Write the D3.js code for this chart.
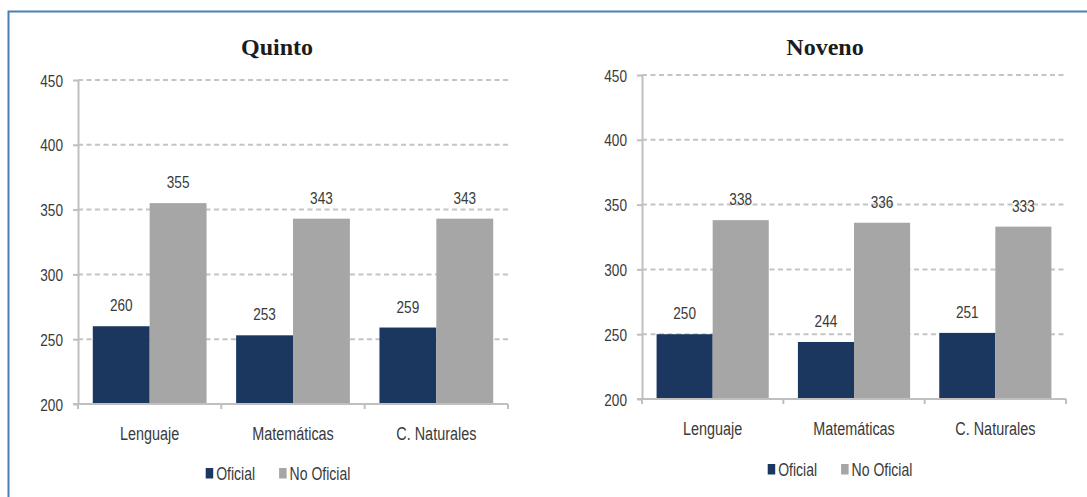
<!DOCTYPE html>
<html>
<head>
<meta charset="utf-8">
<script src="https://cdn.jsdelivr.net/npm/d3@7/dist/d3.min.js"></script>
<style>
  html, body { margin: 0; padding: 0; background: #ffffff; }
  svg { display: block; }
  .lbl { font-family: "Liberation Sans", Arial, sans-serif; fill: #3a3a3a; }
  .ttl { font-family: "Liberation Serif", "DejaVu Serif", serif; font-weight: bold; fill: #1c1c1c; }
</style>
</head>
<body>
<svg id="chart" width="1087" height="497"></svg>
<script>
// Subjects on the x axis
const categories = ["Lenguaje", "Matemáticas", "C. Naturales"];
// Series names shown in the legends
const seriesNames = ["Oficial", "No Oficial"];
// Y axis ticks
const yTicks = [200, 250, 300, 350, 400, 450];

// Quinto (5th grade) average scores
const quintoOficial = [260, 253, 259];
const quintoNoOficial = [355, 343, 343];

// Noveno (9th grade) average scores
const novenoOficial = [250, 244, 251];
const novenoNoOficial = [338, 336, 333];

const colors = { "Oficial": "#1b375f", "No Oficial": "#a6a6a6" };
const NARROW = 0.8;   // horizontal compression for a narrow sans look

const svg = d3.select("#chart");

// Compress text horizontally to a narrow face
function narrow(sel) {
  sel.each(function () {
    const len = this.getComputedTextLength();
    d3.select(this)
      .attr("textLength", len * NARROW)
      .attr("lengthAdjust", "spacingAndGlyphs");
  });
}

// Frame around both panels
svg.append("path")
  .attr("d", "M8.5,500 V11.5 H1090")
  .attr("fill", "none")
  .attr("stroke", "#4a7ebb")
  .attr("stroke-width", 2);

function drawPanel(cfg) {
  const g = svg.append("g");
  const y = d3.scaleLinear().domain([200, 450]).range([cfg.yBot, cfg.yTop]);
  const x = d3.scaleBand().domain(categories).range([cfg.x0, cfg.x1]).padding(0);
  const xs = d3.scaleBand().domain(seriesNames).range([0, x.bandwidth()])
    .paddingInner(0).paddingOuter(0.26);

  // Dashed horizontal gridlines
  g.append("g").selectAll("line")
    .data(yTicks.filter(t => t > 200))
    .join("line")
    .attr("x1", cfg.x0).attr("x2", cfg.x1)
    .attr("y1", d => y(d)).attr("y2", d => y(d))
    .attr("stroke", "#c4c4c4")
    .attr("stroke-width", 2)
    .attr("stroke-dasharray", "5,3.5");

  // Bars
  const rows = categories.map((c, i) => ({ cat: c, vals: [
    { s: "Oficial", v: cfg.oficial[i] },
    { s: "No Oficial", v: cfg.noOficial[i] }
  ]}));

  const grp = g.append("g").selectAll("g")
    .data(rows).join("g")
    .attr("transform", d => `translate(${x(d.cat)},0)`);

  grp.selectAll("rect")
    .data(d => d.vals).join("rect")
    .attr("x", d => xs(d.s))
    .attr("width", xs.bandwidth())
    .attr("y", d => y(d.v))
    .attr("height", d => y(200) - y(d.v))
    .attr("fill", d => colors[d.s]);

  // Value labels above bars
  grp.selectAll("text")
    .data(d => d.vals).join("text")
    .attr("class", "lbl")
    .attr("x", d => xs(d.s) + xs.bandwidth() / 2)
    .attr("y", d => y(d.v) - 15)
    .attr("text-anchor", "middle")
    .style("font-size", "17px")
    .text(d => d.v)
    .call(narrow);

  // Y axis
  const yAxis = g.append("g")
    .attr("transform", `translate(${cfg.x0},0)`)
    .call(d3.axisLeft(y).tickValues(yTicks).tickSize(5).tickPadding(10).tickSizeOuter(0));
  yAxis.select(".domain").attr("stroke", "#bfbfbf").attr("stroke-width", 2);
  yAxis.selectAll(".tick line").attr("stroke", "#bfbfbf").attr("stroke-width", 2);
  yAxis.selectAll(".tick text").attr("class", "lbl").attr("fill", null)
    .style("font-size", "17px").attr("dy", "0.36em")
    .call(narrow);

  // X axis line with tick marks at category boundaries
  g.append("line")
    .attr("x1", cfg.x0 - 5).attr("x2", cfg.x1)
    .attr("y1", y(200)).attr("y2", y(200))
    .attr("stroke", "#bfbfbf").attr("stroke-width", 2);
  const bounds = categories.map(c => x(c)).concat([cfg.x1]);
  g.append("g").selectAll("line")
    .data(bounds).join("line")
    .attr("x1", d => d).attr("x2", d => d)
    .attr("y1", y(200)).attr("y2", y(200) + 5)
    .attr("stroke", "#bfbfbf").attr("stroke-width", 2);

  // Category labels
  const xAxis = g.append("g")
    .attr("transform", `translate(0,${cfg.catY})`)
    .call(d3.axisBottom(x).tickSize(0).tickPadding(0));
  xAxis.select(".domain").remove();
  xAxis.selectAll(".tick text").attr("class", "lbl").attr("fill", null)
    .attr("dy", 0).style("font-size", "18px")
    .call(narrow);

  // Title
  g.append("text")
    .attr("class", "ttl")
    .attr("x", cfg.titleX).attr("y", 55)
    .attr("text-anchor", "middle")
    .style("font-size", "24px")
    .text(cfg.title);

  // Legend, centred on legendX
  const lg = g.append("g");
  let cx = 0;
  seriesNames.forEach((s, i) => {
    const it = lg.append("g").attr("transform", `translate(${cx},0)`);
    it.append("rect")
      .attr("x", 0).attr("y", -12).attr("width", 7.5).attr("height", 10.5)
      .attr("fill", colors[s]);
    const t = it.append("text")
      .attr("class", "lbl")
      .attr("x", 10.5).attr("y", 0)
      .style("font-size", "17.5px")
      .text(s);
    const w = t.node().getComputedTextLength() * NARROW;
    t.attr("textLength", w).attr("lengthAdjust", "spacingAndGlyphs");
    cx += 10.5 + w + (i === 0 ? 24 : 0);
  });
  lg.attr("transform", `translate(${cfg.legendX - cx / 2},${cfg.legendY})`);
}

drawPanel({
  title: "Quinto", titleX: 277,
  x0: 78, x1: 508, yTop: 80, yBot: 404,
  catY: 440, legendX: 278, legendY: 480,
  oficial: quintoOficial, noOficial: quintoNoOficial
});

drawPanel({
  title: "Noveno", titleX: 825,
  x0: 642, x1: 1066, yTop: 75, yBot: 399,
  catY: 435, legendX: 840, legendY: 476,
  oficial: novenoOficial, noOficial: novenoNoOficial
});
</script>
</body>
</html>
